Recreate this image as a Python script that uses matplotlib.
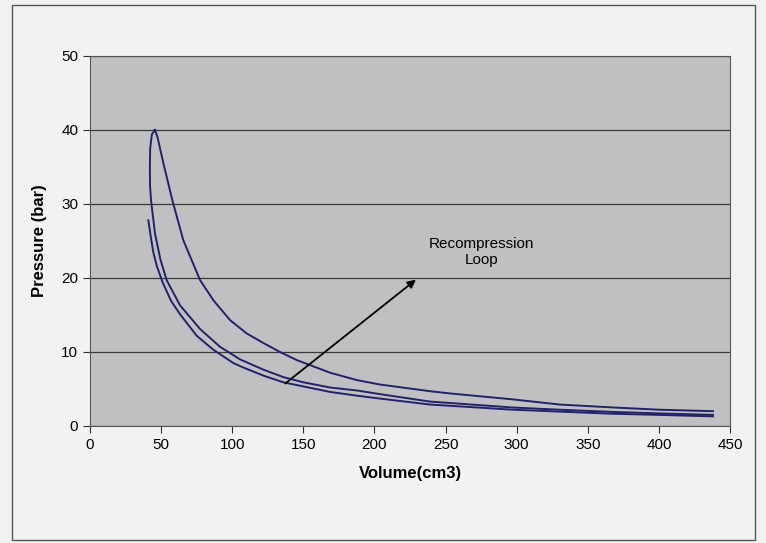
import matplotlib.pyplot as plt
import numpy as np

plt.rcParams['font.family'] = ['Liberation Sans', 'DejaVu Sans']

# Kompression (Kurve B), von rechts bis zum Spitzenwert
comp_x = [438, 400, 368, 330, 297, 239, 204, 187.6, 168.8, 150, 136, 122, 105.5, 91.4, 77.4, 63.3, 53.9, 49.5, 45.7, 42.9, 42.2, 42.1, 42.3, 43.5, 45.7]
comp_y = [1.5, 1.7, 1.9, 2.2, 2.5, 3.3, 4.3, 4.8, 5.2, 5.9, 6.6, 7.6, 9.0, 10.7, 13.1, 16.3, 19.7, 22.5, 26.0, 30.5, 32.5, 35.0, 37.5, 39.4, 40.0]

# Expansion (obere Kurve)
exp_x = [45.7, 47.5, 51.6, 57.9, 65.6, 77.4, 86.7, 98.5, 110.2, 122, 133.6, 145.4, 168.8, 187.6, 204, 239, 253, 297, 330, 368, 400, 438]
exp_y = [40.0, 39.0, 35.5, 30.5, 25.1, 19.7, 17.0, 14.3, 12.5, 11.2, 10.0, 8.9, 7.2, 6.2, 5.6, 4.7, 4.4, 3.6, 2.9, 2.5, 2.2, 2.0]

# Rekompression (Kurve A)
rec_x = [41, 41.8, 42.7, 44.5, 47, 51.1, 57, 63.3, 75, 86.7, 100.8, 107.8, 122, 136, 168.8, 187.6, 204, 239, 297, 368, 400, 438]
rec_y = [27.8, 26.8, 25.6, 23.5, 21.6, 19.4, 16.9, 15.1, 12.2, 10.3, 8.5, 7.9, 6.8, 5.9, 4.6, 4.1, 3.7, 2.9, 2.2, 1.65, 1.5, 1.3]

fig = plt.figure(figsize=(7.66, 5.43), dpi=100, facecolor='#f2f2f2')
ax = fig.add_axes([0.1175, 0.2155, 0.8355, 0.6815])
ax.set_facecolor('#c0c0c2')

linecol = '#22226a'
ax.plot(comp_x, comp_y, color=linecol, lw=1.4)
ax.plot(exp_x, exp_y, color=linecol, lw=1.4)
ax.plot(rec_x, rec_y, color=linecol, lw=1.4)

ax.set_xlim(0, 450)
ax.set_ylim(0, 50)
ax.set_xticks(np.arange(0, 451, 50))
ax.set_yticks(np.arange(0, 51, 10))
ax.yaxis.grid(True, color='#3a3a3a', lw=0.9)
ax.set_axisbelow(True)
for s in ax.spines.values():
    s.set_color('#555555')
ax.tick_params(labelsize=11, length=5, color='#333333')

ax.set_xlabel('Volume(cm3)', fontsize=12, fontweight='bold', labelpad=10)
ax.set_ylabel('Pressure (bar)', fontsize=12, fontweight='bold', labelpad=10)

ax.annotate('', xy=(230.7, 20), xytext=(135.7, 5.5),
            arrowprops=dict(arrowstyle='-|>', color='black', lw=1.3, mutation_scale=12))
ax.text(275, 23.5, 'Recompression\nLoop', ha='center', va='center', fontsize=11)

# Rahmen um das ganze Diagramm
fig.patches.append(plt.Rectangle((0.016, 0.006), 0.97, 0.985, transform=fig.transFigure,
                                 fill=False, edgecolor='#555555', lw=1))

fig.savefig('out.png', dpi=100, facecolor=fig.get_facecolor())
